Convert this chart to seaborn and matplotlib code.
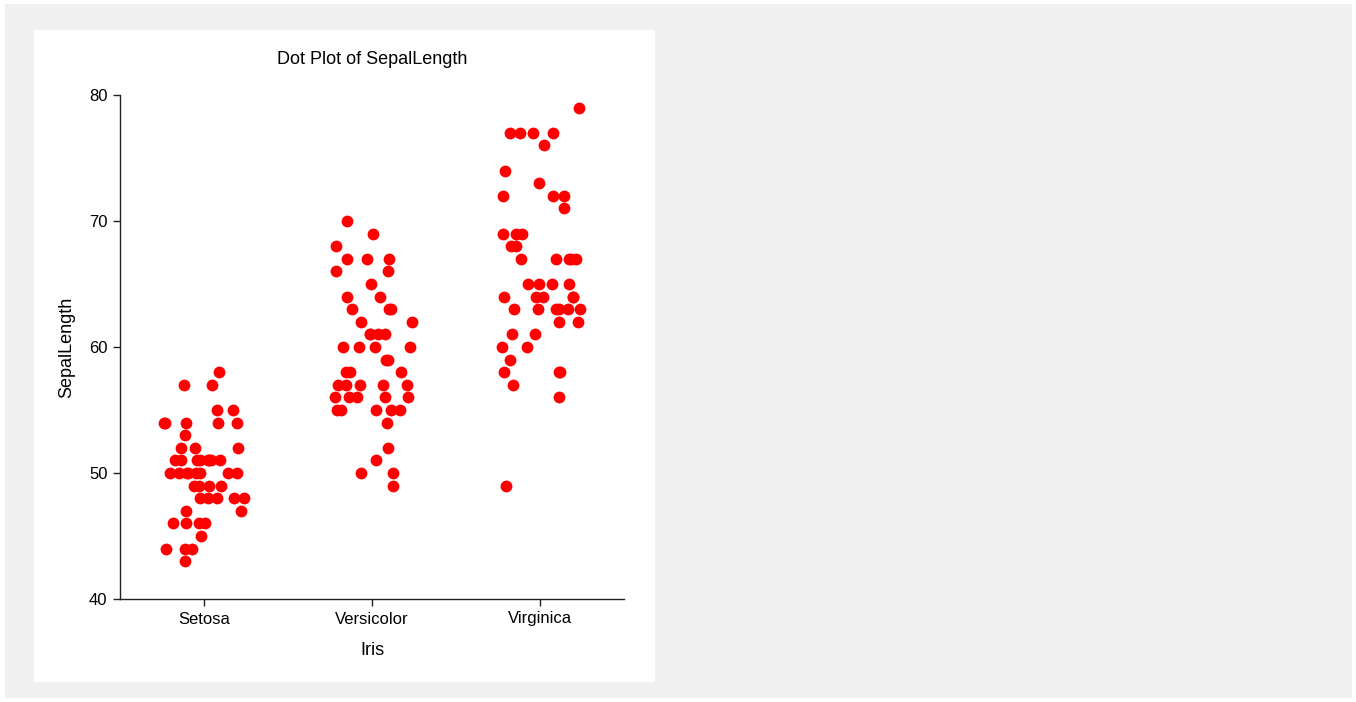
import numpy as np
import pandas as pd
import matplotlib
matplotlib.use('Agg')
import matplotlib.pyplot as plt
import seaborn as sns
from matplotlib.patches import Rectangle

# データ (SepalLength, mm)
species = ['Setosa', 'Versicolor', 'Virginica']
setosa = [51, 49, 47, 46, 50, 54, 46, 50, 44, 49, 54, 48, 48, 43, 58, 57, 54, 51, 57, 51,
          54, 51, 46, 51, 48, 50, 50, 52, 52, 47, 48, 54, 52, 55, 49, 50, 55, 49, 44, 51,
          50, 45, 44, 50, 51, 48, 51, 46, 53, 50]
versicolor = [70, 64, 69, 55, 65, 57, 63, 49, 66, 52, 50, 59, 60, 61, 56, 67, 56, 58, 62, 56,
              59, 61, 63, 61, 64, 66, 68, 67, 60, 57, 55, 55, 58, 60, 54, 60, 67, 63, 56, 55,
              55, 61, 58, 50, 56, 57, 57, 62, 51, 57]
virginica = [63, 58, 71, 63, 65, 76, 49, 73, 67, 72, 65, 64, 68, 57, 58, 64, 65, 77, 77, 60,
             69, 56, 77, 63, 67, 72, 62, 61, 64, 72, 74, 79, 64, 63, 61, 77, 63, 64, 60, 69,
             67, 69, 58, 68, 67, 67, 63, 65, 62, 59]
y_ticks = [40, 50, 60, 70, 80]

df = pd.DataFrame({
    'Iris': ['Setosa'] * len(setosa) + ['Versicolor'] * len(versicolor) + ['Virginica'] * len(virginica),
    'SepalLength': setosa + versicolor + virginica,
})

sns.set_style('white')
plt.rcParams['font.family'] = ['Liberation Sans', 'DejaVu Sans']
plt.rcParams['text.color'] = 'black'
plt.rcParams['axes.labelcolor'] = 'black'
plt.rcParams['xtick.color'] = 'black'
plt.rcParams['ytick.color'] = 'black'

W, H = 1356, 702
fig = plt.figure(figsize=(W / 100, H / 100), dpi=100, facecolor='white')

# 背景パネル
fig.patches.append(Rectangle((5 / W, 4 / H), 1347 / W, 694 / H, transform=fig.transFigure,
                             facecolor='#f0f0f0', edgecolor='none', zorder=-2))
fig.patches.append(Rectangle((34 / W, 20 / H), 621 / W, 652 / H, transform=fig.transFigure,
                             facecolor='white', edgecolor='none', zorder=-1))

ax = fig.add_axes([120 / W, 103 / H, 504 / W, 504 / H])
ax.set_facecolor('none')

np.random.seed(3)
sns.stripplot(data=df, x='Iris', y='SepalLength', order=species, color='#ff0000',
              jitter=0.25, size=8.5, linewidth=0, ax=ax)

ax.set_xlim(-0.5, 2.5)
ax.set_ylim(40, 80)
ax.set_yticks(y_ticks)
ax.set_title('Dot Plot of SepalLength', fontsize=13, pad=22)
ax.set_xlabel('Iris', fontsize=13, labelpad=11)
ax.set_ylabel('SepalLength', fontsize=13, labelpad=10)

sns.despine(ax=ax)
for s in ['left', 'bottom']:
    ax.spines[s].set_color('#222222')
    ax.spines[s].set_linewidth(1.0)
ax.tick_params(axis='both', direction='out', length=5, width=1, color='#222222',
               labelsize=12, pad=4, left=True, bottom=True)

fig.savefig('out.png', dpi=100, facecolor='white')
